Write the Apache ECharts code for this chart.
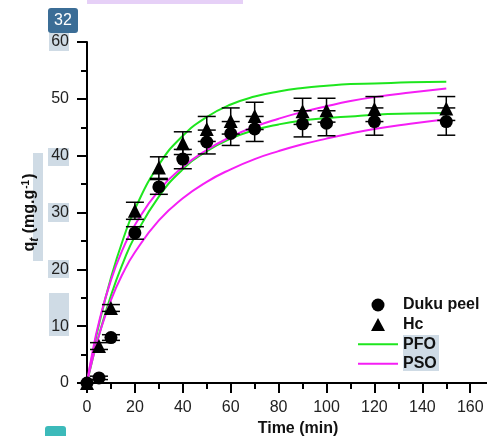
<!DOCTYPE html>
<html>
<head>
<meta charset="utf-8">
<script src="https://cdn.jsdelivr.net/npm/echarts@6/dist/echarts.min.js"></script>
<style>html,body{margin:0;padding:0;background:#fff;}#c{width:487px;height:436px;}</style>
</head>
<body>
<div id="c"></div>
<script>
// ---- data ----
var time = [0, 5, 10, 20, 30, 40, 50, 60, 70, 90, 100, 120, 150];
var dukuQt = [0, 0.9, 8.0, 26.4, 34.5, 39.4, 42.4, 43.9, 44.7, 45.6, 45.7, 46.0, 46.0];
var dukuErr = [0, 0.3, 0.5, 1.1, 1.3, 1.7, 2.1, 2.1, 2.2, 2.3, 2.2, 2.4, 2.4];
var hcQt = [0, 6.5, 13.2, 30.3, 37.9, 42.2, 44.7, 46.1, 47.0, 47.8, 48.0, 48.2, 48.3];
var hcErr = [0, 0.6, 0.6, 1.5, 1.9, 2.0, 2.2, 2.3, 2.4, 2.3, 2.1, 2.2, 2.1];

var curveTime = [0, 2, 5, 10, 15, 20, 30, 40, 50, 60, 70, 80, 90, 100, 110, 120, 135, 150];
var pfoUpper = [0, 4.4, 10.3, 18.5, 25.2, 30.6, 38.4, 43.5, 46.8, 49.0, 50.4, 51.3, 51.9, 52.3, 52.6, 52.7, 52.9, 53.0];
var psoUpper = [0, 4.8, 10.7, 18.1, 23.6, 27.8, 33.9, 38.0, 41.0, 43.3, 45.1, 46.5, 47.7, 48.7, 49.6, 50.3, 51.1, 51.8];
var pfoLower = [0, 3.6, 8.4, 15.4, 21.1, 25.8, 32.8, 37.6, 40.8, 43.0, 44.5, 45.5, 46.2, 46.6, 46.9, 47.2, 47.4, 47.5];
var psoLower = [0, 3.7, 8.4, 14.6, 19.3, 23.0, 28.6, 32.5, 35.4, 37.6, 39.4, 40.8, 42.0, 43.0, 43.9, 44.7, 45.6, 46.4];

var xMajorTicks = [0, 20, 40, 60, 80, 100, 120, 140, 160];
var xMinorTicks = [10, 30, 50, 70, 90, 110, 130, 150];
var legendNames = ['Duku peel', 'Hc', 'PFO', 'PSO'];

var FONT = "'Liberation Sans', Arial, Helvetica, sans-serif";
var GREEN = '#1ee61e';
var MAGENTA = '#f51ef5';
var LINE_ICON = 'path://M0,0 L40,0 L40,2 L0,2 Z';
var TRI_ICON = 'path://M7,0 L14,13 L0,13 Z';
var DOT_ICON = 'path://M6.5,0 A6.5,6.5 0 1 1 6.49,0 Z';

function pts(xs, ys) { return xs.map(function (x, i) { return [x, ys[i]]; }); }
function errs(xs, ys, es) {
  var out = [];
  xs.forEach(function (x, i) { if (es[i] > 0) out.push([x, ys[i] - es[i], ys[i] + es[i]]); });
  return out;
}
function errRender(params, api) {
  var x = api.value(0), lo = api.value(1), hi = api.value(2);
  var a = api.coord([x, lo]), b = api.coord([x, hi]);
  var w = 9;
  var st = { stroke: '#000', lineWidth: 1.5 };
  return {
    type: 'group',
    children: [
      { type: 'line', shape: { x1: a[0], y1: a[1], x2: b[0], y2: b[1] }, style: st },
      { type: 'line', shape: { x1: a[0] - w, y1: a[1], x2: a[0] + w, y2: a[1] }, style: st },
      { type: 'line', shape: { x1: b[0] - w, y1: b[1], x2: b[0] + w, y2: b[1] }, style: st }
    ]
  };
}

var chart = echarts.init(document.getElementById('c'), null, { renderer: 'canvas' });
var axisLineStyle = { color: '#000', width: 2 };
chart.setOption({
  animation: false,
  backgroundColor: '#fff',
  grid: { left: 87, right: 0, top: 42, bottom: 53, containLabel: false, outerBoundsMode: 'none' },
  xAxis: [{
    type: 'value', min: 0, max: 167, position: 'bottom',
    axisLine: { show: true, lineStyle: axisLineStyle },
    axisTick: { show: true, length: 10, lineStyle: axisLineStyle, customValues: xMajorTicks },
    axisLabel: { show: true, margin: 17, fontSize: 16, color: '#222', fontFamily: FONT, customValues: xMajorTicks },
    splitLine: { show: false },
    name: 'Time (min)', nameLocation: 'middle', nameGap: 35,
    nameTextStyle: { fontSize: 16, fontWeight: 'bold', color: '#111', fontFamily: FONT, padding: [0, 0, 0, 22] }
  }, {
    type: 'value', min: 0, max: 167, position: 'bottom', gridIndex: 0,
    axisLine: { show: false },
    axisTick: { show: true, length: 6, lineStyle: axisLineStyle, customValues: xMinorTicks },
    axisLabel: { show: false },
    splitLine: { show: false }
  }],
  yAxis: {
    type: 'value', min: 0, max: 60, interval: 10,
    axisLine: { show: true, lineStyle: axisLineStyle },
    axisTick: { show: true, length: 10, lineStyle: axisLineStyle },
    minorTick: { show: true, splitNumber: 2, length: 6, lineStyle: axisLineStyle },
    axisLabel: { margin: 18, fontSize: 16, color: '#222', fontFamily: FONT },
    splitLine: { show: false },
    name: '{q|q}{t|t}{r| (mg.g}{s|-1}{r|)}',
    nameLocation: 'middle', nameGap: 47, nameRotate: 90,
    nameTextStyle: {
      fontFamily: FONT, color: '#111',
      rich: {
        q: { fontSize: 16, fontWeight: 'bold', fontFamily: FONT, color: '#111' },
        t: { fontSize: 12, fontWeight: 'bold', fontStyle: 'italic', fontFamily: FONT, color: '#111', verticalAlign: 'bottom', padding: [0, 0, -3, 0] },
        r: { fontSize: 16, fontWeight: 'bold', fontFamily: FONT, color: '#111' },
        s: { fontSize: 10, fontWeight: 'bold', fontFamily: FONT, color: '#111', verticalAlign: 'top', padding: [0, 1, 6, 1] }
      }
    }
  },
  legend: {
    orient: 'vertical', left: 358, top: 297, padding: 0,
    itemWidth: 40, itemHeight: 13, itemGap: 3.6,
    symbolKeepAspect: true,
    textStyle: { fontSize: 16, fontWeight: 'bold', color: '#111', fontFamily: FONT },
    data: [
      { name: legendNames[0], icon: 'circle' },
      { name: legendNames[1], icon: TRI_ICON },
      { name: legendNames[2], icon: LINE_ICON },
      { name: legendNames[3], icon: LINE_ICON }
    ]
  },
  graphic: [
    { type: 'rect', z: -10, shape: { x: 49, y: 33, width: 20, height: 18 }, style: { fill: '#cfdbe5' } },
    { type: 'rect', z: -10, shape: { x: 48, y: 148, width: 21, height: 18 }, style: { fill: '#cfdbe5' } },
    { type: 'rect', z: -10, shape: { x: 48, y: 203, width: 21, height: 19 }, style: { fill: '#cfdbe5' } },
    { type: 'rect', z: -10, shape: { x: 48, y: 260, width: 21, height: 18 }, style: { fill: '#cfdbe5' } },
    { type: 'rect', z: -10, shape: { x: 49, y: 293, width: 20, height: 43 }, style: { fill: '#cfdbe5' } },
    { type: 'rect', z: -10, shape: { x: 33, y: 153, width: 10, height: 108 }, style: { fill: '#cfdbe5' } },
    { type: 'rect', z: -10, shape: { x: 403, y: 335, width: 36, height: 36 }, style: { fill: '#cfdbe5' } },
    { type: 'rect', z: -10, shape: { x: 87, y: 0, width: 156, height: 4 }, style: { fill: '#e6d0f7' } },
    { type: 'rect', z: 10, shape: { x: 48, y: 8, width: 30, height: 25, r: 3 }, style: { fill: '#3b6d96' } },
    { type: 'text', z: 11, x: 63, y: 21, style: { text: '32', fill: '#fff', fontSize: 16, fontFamily: FONT, align: 'center', verticalAlign: 'middle' } },
    { type: 'rect', z: 10, shape: { x: 45, y: 426, width: 21, height: 14, r: 3 }, style: { fill: '#3cbaba' } }
  ],
  series: [
    { name: 'PFO', type: 'line', data: pts(curveTime, pfoUpper), smooth: true, showSymbol: false, symbol: 'none', lineStyle: { color: GREEN, width: 2 }, itemStyle: { color: GREEN }, z: 2 },
    { name: 'PFO', type: 'line', data: pts(curveTime, pfoLower), smooth: true, showSymbol: false, symbol: 'none', lineStyle: { color: GREEN, width: 2 }, itemStyle: { color: GREEN }, z: 2 },
    { name: 'PSO', type: 'line', data: pts(curveTime, psoUpper), smooth: true, showSymbol: false, symbol: 'none', lineStyle: { color: MAGENTA, width: 2 }, itemStyle: { color: MAGENTA }, z: 2 },
    { name: 'PSO', type: 'line', data: pts(curveTime, psoLower), smooth: true, showSymbol: false, symbol: 'none', lineStyle: { color: MAGENTA, width: 2 }, itemStyle: { color: MAGENTA }, z: 2 },
    { name: 'Duku peel err', type: 'custom', renderItem: errRender, data: errs(time, dukuQt, dukuErr), encode: { x: 0, y: [1, 2] }, z: 3 },
    { name: 'Hc err', type: 'custom', renderItem: errRender, data: errs(time, hcQt, hcErr), encode: { x: 0, y: [1, 2] }, z: 3 },
    { name: 'Duku peel', type: 'scatter', data: pts(time, dukuQt), symbol: 'circle', symbolSize: 13, itemStyle: { color: '#000', opacity: 1 }, z: 4 },
    { name: 'Hc', type: 'scatter', data: pts(time, hcQt), symbol: 'triangle', symbolSize: 14, itemStyle: { color: '#000', opacity: 1 }, z: 4 }
  ]
});
</script>
</body>
</html>
